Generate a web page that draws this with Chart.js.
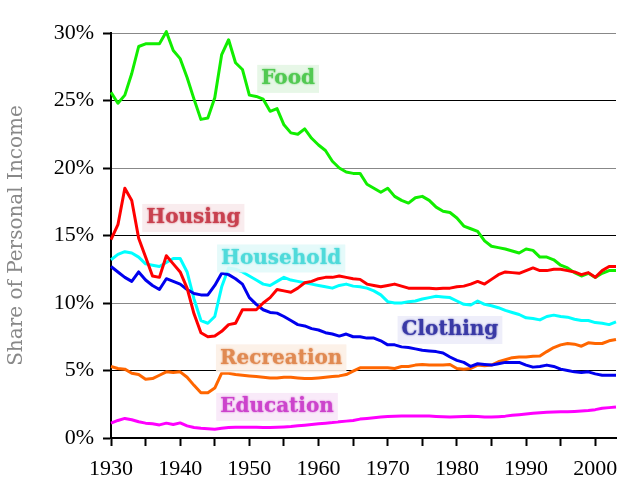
<!DOCTYPE html>
<html>
<head>
<meta charset="utf-8">
<script src="https://cdn.jsdelivr.net/npm/chart.js@4.4.1/dist/chart.umd.min.js"></script>
<style>
  body { margin: 0; background: #fff; }
  canvas { display: block; }
</style>
</head>
<body>
<canvas id="lineGraph" width="632" height="485"></canvas>
<script>
// yearly share of personal income, in percent
let years = [
    1930, 1931, 1932, 1933, 1934, 1935, 1936, 1937, 1938, 1939,
    1940, 1941, 1942, 1943, 1944, 1945, 1946, 1947, 1948, 1949,
    1950, 1951, 1952, 1953, 1954, 1955, 1956, 1957, 1958, 1959,
    1960, 1961, 1962, 1963, 1964, 1965, 1966, 1967, 1968, 1969,
    1970, 1971, 1972, 1973, 1974, 1975, 1976, 1977, 1978, 1979,
    1980, 1981, 1982, 1983, 1984, 1985, 1986, 1987, 1988, 1989,
    1990, 1991, 1992, 1993, 1994, 1995, 1996, 1997, 1998, 1999,
    2000, 2001, 2002, 2003
];
let food = [
    25.6, 24.8, 25.4, 27.0, 29.0, 29.2, 29.2, 29.2, 30.1, 28.7,
    28.1, 26.7, 25.1, 23.6, 23.7, 25.2, 28.4, 29.5, 27.8, 27.3,
    25.4, 25.3, 25.1, 24.2, 24.4, 23.2, 22.6, 22.5, 22.9, 22.2,
    21.7, 21.3, 20.5, 20.0, 19.7, 19.6, 19.6, 18.8, 18.5, 18.2,
    18.5, 17.9, 17.6, 17.4, 17.8, 17.9, 17.6, 17.1, 16.8, 16.7,
    16.3, 15.7, 15.5, 15.3, 14.6, 14.2, 14.1, 14.0, 13.85, 13.7,
    14.0, 13.9, 13.4, 13.4, 13.2, 12.8, 12.6, 12.25, 12.0, 12.2,
    11.9, 12.2, 12.4, 12.4
];
let housing = [
    14.7, 15.8, 18.5, 17.6, 14.8, 13.4, 12.0, 11.9, 13.5, 12.9,
    12.3, 11.1, 9.2, 7.8, 7.5, 7.55, 7.9, 8.4, 8.5, 9.5,
    9.5, 9.5, 10.0, 10.4, 11.0, 10.9, 10.8, 11.1, 11.5, 11.6,
    11.8, 11.9, 11.9, 12.0, 11.9, 11.8, 11.75, 11.4, 11.3, 11.2,
    11.3, 11.4, 11.25, 11.1, 11.1, 11.1, 11.1, 11.05, 11.1, 11.1,
    11.2, 11.25, 11.4, 11.6, 11.4, 11.75, 12.1, 12.3, 12.25, 12.2,
    12.4, 12.6, 12.4, 12.4, 12.5, 12.5, 12.4, 12.3, 12.1, 12.25,
    11.9, 12.4, 12.7, 12.7
];
let household = [
    13.2, 13.6, 13.8, 13.7, 13.4, 12.9, 12.8, 12.7, 13.0, 13.3,
    13.3, 12.3, 10.3, 8.7, 8.5, 9.0, 11.2, 12.6, 12.5, 12.3,
    12.0, 11.7, 11.4, 11.3, 11.6, 11.9, 11.7, 11.6, 11.5, 11.4,
    11.3, 11.2, 11.1, 11.3, 11.4, 11.25, 11.2, 11.1, 10.9, 10.6,
    10.1, 10.0, 10.0, 10.1, 10.15, 10.3, 10.4, 10.5, 10.45, 10.4,
    10.15, 9.9, 9.85, 10.15, 9.9, 9.8, 9.65, 9.45, 9.3, 9.15,
    8.9, 8.85, 8.75, 9.0, 9.1, 9.0, 8.95, 8.8, 8.7, 8.7,
    8.55, 8.5, 8.4, 8.6
];
let clothing = [
    12.7, 12.3, 11.9, 11.6, 12.3, 11.7, 11.3, 11.0, 11.8, 11.6,
    11.4, 11.0, 10.7, 10.6, 10.6, 11.3, 12.2, 12.1, 11.8, 11.4,
    10.4, 9.9, 9.5, 9.3, 9.25, 9.0, 8.7, 8.4, 8.3, 8.1,
    8.0, 7.8, 7.7, 7.55, 7.7, 7.5, 7.5, 7.4, 7.4, 7.2,
    6.9, 6.9, 6.75, 6.7, 6.6, 6.5, 6.45, 6.4, 6.3, 6.0,
    5.75, 5.6, 5.3, 5.5, 5.45, 5.4, 5.5, 5.6, 5.6, 5.6,
    5.4, 5.25, 5.3, 5.4, 5.3, 5.1, 5.0, 4.9, 4.85, 4.9,
    4.75, 4.65, 4.65, 4.65
];
let recreation = [
    5.3, 5.15, 5.1, 4.8, 4.7, 4.35, 4.4, 4.65, 4.9, 4.85,
    4.9, 4.5, 3.9, 3.35, 3.35, 3.7, 4.8, 4.8, 4.7, 4.65,
    4.6, 4.55, 4.5, 4.45, 4.45, 4.5, 4.5, 4.45, 4.4, 4.4,
    4.45, 4.5, 4.55, 4.6, 4.7, 4.95, 5.2, 5.2, 5.2, 5.2,
    5.2, 5.15, 5.3, 5.3, 5.4, 5.45, 5.4, 5.4, 5.4, 5.45,
    5.15, 5.1, 5.15, 5.4, 5.35, 5.4, 5.65, 5.8, 5.95, 6.0,
    6.0, 6.05, 6.07, 6.4, 6.7, 6.9, 7.0, 6.95, 6.8, 7.05,
    7.0, 7.0, 7.2, 7.3
];
let education = [
    1.1, 1.3, 1.45, 1.35, 1.2, 1.1, 1.05, 0.97, 1.1, 1.0,
    1.12, 0.9, 0.78, 0.72, 0.68, 0.65, 0.72, 0.78, 0.8, 0.8,
    0.8, 0.8, 0.78, 0.78, 0.8, 0.82, 0.85, 0.9, 0.95, 1.0,
    1.05, 1.1, 1.14, 1.2, 1.25, 1.3, 1.4, 1.45, 1.5, 1.55,
    1.6, 1.62, 1.63, 1.63, 1.63, 1.63, 1.63, 1.6, 1.57, 1.55,
    1.57, 1.6, 1.62, 1.6, 1.55, 1.55, 1.58, 1.62, 1.68, 1.73,
    1.78, 1.83, 1.87, 1.9, 1.92, 1.94, 1.95, 1.97, 2.0, 2.03,
    2.1, 2.2, 2.25, 2.3
];
let yTicks = [0, 5, 10, 15, 20, 25, 30];
let xTicks = [1930, 1935, 1940, 1945, 1950, 1955, 1960, 1965, 1970, 1975, 1980, 1985, 1990, 1995, 2000];
let xTickLabels = [1930, 1940, 1950, 1960, 1970, 1980, 1990, 2000];

// text labels sitting next to each line (data coordinates)
let seriesLabels = [
    {text: 'Food', year: 1955.6, value: 26.6, color: '#52c952', bg: 'rgba(228,246,228,0.9)'},
    {text: 'Housing', year: 1941.9, value: 16.3, color: '#c8414f', bg: 'rgba(248,234,236,0.9)'},
    {text: 'Household', year: 1954.6, value: 13.3, color: '#4fdada', bg: 'rgba(226,250,250,0.9)'},
    {text: 'Clothing', year: 1979.0, value: 8.0, color: '#3a3aa6', bg: 'rgba(236,236,250,0.9)'},
    {text: 'Recreation', year: 1954.6, value: 5.9, color: '#e08a52', bg: 'rgba(252,240,230,0.9)'},
    {text: 'Education', year: 1954.0, value: 2.3, color: '#cc44cc', bg: 'rgba(248,232,248,0.9)'}
];

function toPoints(values) {
    return years.map((yr, i) => ({x: yr, y: values[i]}));
}

function makeDataset(label, values, color) {
    return {
        label: label,
        data: toPoints(values),
        borderColor: color,
        borderWidth: 3,
        pointRadius: 0,
        tension: 0,
        fill: false,
        clip: 6,
        borderJoinStyle: 'round'
    };
}

const labelPlugin = {
    id: 'seriesLabels',
    afterDatasetsDraw(chart) {
        const ctx = chart.ctx;
        const xs = chart.scales.x;
        const ys = chart.scales.y;
        ctx.save();
        ctx.font = 'bold 20px "DejaVu Serif"';
        ctx.textAlign = 'center';
        ctx.textBaseline = 'middle';
        seriesLabels.forEach(function (l) {
            let px = xs.getPixelForValue(l.year);
            let py = ys.getPixelForValue(l.value);
            let w = ctx.measureText(l.text).width;
            ctx.fillStyle = l.bg;
            ctx.fillRect(px - w / 2 - 4, py - 14, w + 8, 28);
            ctx.shadowColor = l.color;
            ctx.shadowBlur = 2;
            ctx.fillStyle = l.color;
            ctx.fillText(l.text, px, py);
            ctx.shadowBlur = 0;
        });
        ctx.restore();
    }
};

const tickFont = {family: '"Liberation Serif"', size: 22};

const lineCtx = document.getElementById('lineGraph').getContext('2d');
let lineChartInst = new Chart(lineCtx, {
    type: 'line',
    data: {
        datasets: [
            makeDataset('Housing', housing, '#ff0000'),
            makeDataset('Food', food, '#11ee00'),
            makeDataset('Clothing', clothing, '#0000ee'),
            makeDataset('Recreation', recreation, '#ff6600'),
            makeDataset('Household', household, '#00ffff'),
            makeDataset('Education', education, '#ff00ff')
        ]
    },
    options: {
        responsive: false,
        animation: false,
        devicePixelRatio: 1,
        layout: {padding: {top: 33, right: 16, left: 0, bottom: 0}},
        plugins: {legend: {display: false}, tooltip: {enabled: false}},
        scales: {
            x: {
                type: 'linear',
                min: 1930,
                max: 2003,
                afterBuildTicks: function (scale) {
                    scale.ticks = xTicks.map(v => ({value: v}));
                },
                afterFit: function (scale) {
                    scale.height = 47;
                },
                ticks: {
                    autoSkip: false,
                    maxRotation: 0,
                    padding: 10,
                    color: '#000',
                    font: tickFont,
                    callback: v => xTickLabels.includes(v) ? String(v) : ''
                },
                grid: {
                    drawOnChartArea: false,
                    tickLength: 8,
                    tickColor: '#000',
                    tickWidth: 2
                },
                border: {color: '#000', width: 2}
            },
            y: {
                min: 0,
                max: 30,
                afterBuildTicks: function (scale) {
                    scale.ticks = yTicks.map(v => ({value: v}));
                },
                afterFit: function (scale) {
                    scale.width = 111;
                },
                ticks: {
                    padding: 9,
                    color: '#000',
                    font: tickFont,
                    callback: v => v + '%'
                },
                grid: {
                    color: c => (c.tick && c.tick.value % 10 === 0) ? '#888' : '#000',
                    lineWidth: 1,
                    tickLength: 8,
                    tickColor: '#000',
                    tickWidth: 2
                },
                border: {color: '#000', width: 2},
                title: {
                    display: true,
                    text: 'Share of Personal Income',
                    color: '#888',
                    font: {family: '"DejaVu Serif"', size: 20},
                    padding: {top: 5, bottom: 0}
                }
            }
        }
    },
    plugins: [labelPlugin]
});
</script>
</body>
</html>
